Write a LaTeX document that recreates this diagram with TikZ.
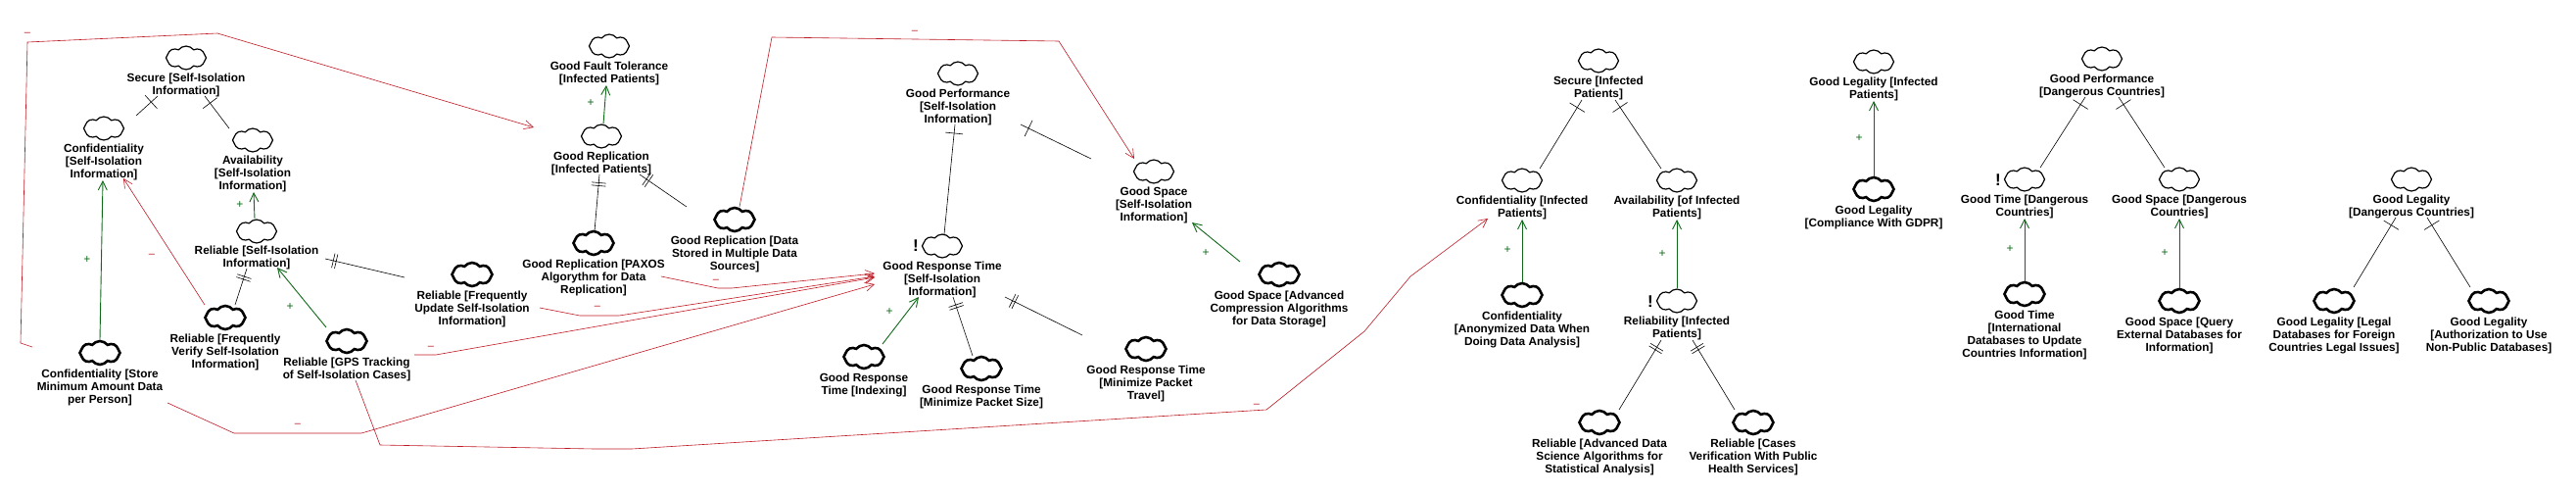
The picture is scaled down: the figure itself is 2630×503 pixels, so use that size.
\documentclass[tikz,border=0pt]{standalone}
\usepackage{fontspec}
\setmainfont{Liberation Sans}
\usepackage{tikz}
\usetikzlibrary{arrows.meta,calc,positioning,decorations.markings,shapes.symbols}
\definecolor{hurtred}{RGB}{190,25,35}
\definecolor{helpgreen}{RGB}{15,105,25}
\tikzset{
        softgoal/.style = {draw, cloud, cloud puffs=8, cloud puff arc=105, cloud ignores aspect,
            inner sep=0pt, line width=1.2pt,
            minimum width=41pt,
            minimum height=24pt},
        softtask/.style = {softgoal, line width=2.6pt},
        goaltext/.style = {align=center, inner sep=0pt, font=\fontsize{11.8}{13}\selectfont\bfseries},
        warn/.style = {inner sep=0pt, font=\fontsize{17}{17}\selectfont\bfseries},
        helps/.style = {draw=helpgreen, line width=.9pt, -{Straight Barb[length=9pt,width=9pt]}},
        hurts/.style = {draw=hurtred, line width=.6pt, -{Straight Barb[length=9pt,width=9pt]}},
        helpsign/.style = {inner sep=0pt, text=helpgreen, font=\fontsize{12}{12}\selectfont},
        hurtsign/.style = {inner sep=0pt, yshift=-1pt, text=hurtred, font=\fontsize{11}{11}\selectfont},
        onebreak/.style = {draw, line width=.6pt, postaction={decorate},
            decoration={markings, mark=at position -9pt with {\draw (0,-9pt) -- (0,9pt);}}},
        twobreak/.style = {draw, line width=.6pt, postaction={decorate},
            decoration={markings,
                mark=at position -8.5pt with {\draw (0,-7.5pt) -- (0,7.5pt);},
                mark=at position -11.5pt with {\draw (0,-7.5pt) -- (0,7.5pt);}}},
    }

\begin{document}
\begin{tikzpicture}[x=1pt,y=-1pt]
    \useasboundingbox (0,0) rectangle (2630,503);

    \node[softgoal] (secinfo) at (190,59) {};
    \node[goaltext, below=3pt of secinfo] (secinfot) {Secure [Self-Isolation\\Information]};
    \node[softgoal] (confinfo) at (106,131) {};
    \node[goaltext, below=3pt of confinfo] (confinfot) {Confidentiality\\{}[Self-Isolation\\Information]};
    \node[softgoal] (avinfo) at (258,143) {};
    \node[goaltext, below=3pt of avinfo] (avinfot) {Availability\\{}[Self-Isolation\\Information]};
    \node[softgoal] (relinfo) at (262,236) {};
    \node[goaltext, below=2pt of relinfo] (relinfot) {Reliable [Self-Isolation\\Information]};
    \node[softtask] (relverify) at (230,324) {};
    \node[goaltext, below=3pt of relverify] (relverifyt) {Reliable [Frequently\\Verify Self-Isolation\\Information]};
    \node[softtask] (relgps) at (354,348) {};
    \node[goaltext, below=3pt of relgps] (relgpst) {Reliable [GPS Tracking\\of Self-Isolation Cases]};
    \node[softtask] (confstore) at (102,360) {};
    \node[goaltext, below=3pt of confstore] (confstoret) {Confidentiality [Store\\Minimum Amount Data\\per Person]};
    \node[softtask] (relupdate) at (482,280) {};
    \node[goaltext, below=3pt of relupdate] (relupdatet) {Reliable [Frequently\\Update Self-Isolation\\Information]};

    \node[softtask] (replpaxos) at (606,248) {};
    \node[goaltext, below=3pt of replpaxos] (replpaxost) {Good Replication [PAXOS\\Algorythm for Data\\Replication]};
    \node[softtask] (repldata) at (750,224) {};
    \node[goaltext, below=3pt of repldata] (repldatat) {Good Replication [Data\\Stored in Multiple Data\\Sources]};
    \node[softgoal] (replpat) at (614,139) {};
    \node[goaltext, below=3pt of replpat] (replpatt) {Good Replication\\{}[Infected Patients]};
    \node[softgoal] (ftpat) at (622,47) {};
    \node[goaltext, below=3pt of ftpat] (ftpatt) {Good Fault Tolerance\\{}[Infected Patients]};

    \node[softgoal] (perfinfo) at (978,75) {};
    \node[goaltext, below=3pt of perfinfo] (perfinfot) {Good Performance\\{}[Self-Isolation\\Information]};
    \node[softgoal] (spaceinfo) at (1178,175) {};
    \node[goaltext, below=3pt of spaceinfo] (spaceinfot) {Good Space\\{}[Self-Isolation\\Information]};
    \node[softgoal] (rtinfo) at (962,251) {};
    \node[warn] (rtwarn) at (935,251) {!};
    \node[goaltext, below=3pt of rtinfo] (rtinfot) {Good Response Time\\{}[Self-Isolation\\Information]};
    \node[softtask] (spaceadv) at (1306,280) {};
    \node[goaltext, below=3pt of spaceadv] (spaceadvt) {Good Space [Advanced\\Compression Algorithms\\for Data Storage]};
    \node[softtask] (rtindex) at (882,364) {};
    \node[goaltext, below=3pt of rtindex] (rtindext) {Good Response\\Time [Indexing]};
    \node[softtask] (rtsize) at (1002,376) {};
    \node[goaltext, below=3pt of rtsize] (rtsizet) {Good Response Time\\{}[Minimize Packet Size]};
    \node[softtask] (rttravel) at (1170,356) {};
    \node[goaltext, below=3pt of rttravel] (rttravelt) {Good Response Time\\{}[Minimize Packet\\Travel]};

    \node[softgoal] (secpat) at (1632,62) {};
    \node[goaltext, below=3pt of secpat] (secpatt) {Secure [Infected\\Patients]};
    \node[softgoal] (confpat) at (1554,184) {};
    \node[goaltext, below=3pt of confpat] (confpatt) {Confidentiality [Infected\\Patients]};
    \node[softgoal] (avpat) at (1712,184) {};
    \node[goaltext, below=3pt of avpat] (avpatt) {Availability [of Infected\\Patients]};
    \node[softtask] (confanon) at (1554,301) {};
    \node[goaltext, below=3pt of confanon] (confanont) {Confidentiality\\{}[Anonymized Data When\\Doing Data Analysis]};
    \node[softgoal] (relpat) at (1712,307) {};
    \node[warn] (relwarn) at (1685,308) {!};
    \node[goaltext, below=3pt of relpat] (relpatt) {Reliability [Infected\\Patients]};
    \node[softtask] (reladv) at (1633,431) {};
    \node[goaltext, below=3pt of reladv] (reladvt) {Reliable [Advanced Data\\Science Algorithms for\\Statistical Analysis]};
    \node[softtask] (relcases) at (1790,431) {};
    \node[goaltext, below=3pt of relcases] (relcasest) {Reliable [Cases\\Verification With Public\\Health Services]};

    \node[softgoal] (legpat) at (1913,63) {};
    \node[goaltext, below=3pt of legpat] (legpatt) {Good Legality [Infected\\Patients]};
    \node[softtask] (leggdpr) at (1913,193) {};
    \node[goaltext, below=3pt of leggdpr] (leggdprt) {Good Legality\\{}[Compliance With GDPR]};

    \node[softgoal] (perfdc) at (2146,60) {};
    \node[goaltext, below=3pt of perfdc] (perfdct) {Good Performance\\{}[Dangerous Countries]};
    \node[softgoal] (timedc) at (2067,183) {};
    \node[warn] (timewarn) at (2040,184) {!};
    \node[goaltext, below=3pt of timedc] (timedct) {Good Time [Dangerous\\Countries]};
    \node[softgoal] (spacedc) at (2225,183) {};
    \node[goaltext, below=3pt of spacedc] (spacedct) {Good Space [Dangerous\\Countries]};
    \node[softtask] (timeintl) at (2067,300) {};
    \node[goaltext, below=3pt of timeintl] (timeintlt) {Good Time\\{}[International\\Databases to Update\\Countries Information]};
    \node[softtask] (spacequery) at (2225,307) {};
    \node[goaltext, below=3pt of spacequery] (spacequeryt) {Good Space [Query\\External Databases for\\Information]};

    \node[softgoal] (legdc) at (2462,183) {};
    \node[goaltext, below=3pt of legdc] (legdct) {Good Legality\\{}[Dangerous Countries]};
    \node[softtask] (leglegal) at (2383,307) {};
    \node[goaltext, below=3pt of leglegal] (leglegalt) {Good Legality [Legal\\Databases for Foreign\\Countries Legal Issues]};
    \node[softtask] (legauth) at (2541,307) {};
    \node[goaltext, below=3pt of legauth] (legautht) {Good Legality\\{}[Authorization to Use\\Non-Public Databases]};

    \draw[onebreak] ($ (confinfo) + (33,-13) $) -- ($ (secinfo) + (-29,39) $);
    \draw[onebreak] ($ (avinfo) + (-24,-12) $) -- ($ (secinfo) + (19,39) $);
    \draw[twobreak] ($ (relverify) + (10,-13) $) -- ($ (relinfo) + (-10,38) $);
    \draw[twobreak] ($ (relupdate) + (-69,3) $) -- ($ (relinfo) + (70,28) $);
    \draw[twobreak] ($ (replpaxos) + (1,-12) $) -- ($ (replpat) + (-2,39) $);
    \draw[twobreak] ($ (repldata) + (-49,-13) $) -- ($ (replpat) + (39,39) $);
    \draw[onebreak] ($ (rtinfo) + (2,-12) $) -- ($ (perfinfo) + (-3,52) $);
    \draw[onebreak] ($ (spaceinfo) + (-64,-13) $) -- ($ (perfinfo) + (64,52) $);
    \draw[twobreak] ($ (rtsize) + (-9,-13) $) -- ($ (rtinfo) + (11,52) $);
    \draw[twobreak] ($ (rttravel) + (-65,-14) $) -- ($ (rtinfo) + (64,52) $);
    \draw[onebreak] ($ (confpat) + (18,-12) $) -- ($ (secpat) + (-17,40) $);
    \draw[onebreak] ($ (avpat) + (-16,-12) $) -- ($ (secpat) + (17,40) $);
    \draw[twobreak] ($ (reladv) + (20,-13) $) -- ($ (relpat) + (-16,40) $);
    \draw[twobreak] ($ (relcases) + (-19,-13) $) -- ($ (relpat) + (16,40) $);
    \draw[onebreak] ($ (timedc) + (16,-12) $) -- ($ (perfdc) + (-17,39) $);
    \draw[onebreak] ($ (spacedc) + (-15,-12) $) -- ($ (perfdc) + (17,39) $);
    \draw[onebreak] ($ (leglegal) + (20,-14) $) -- ($ (legdc) + (-16,39) $);
    \draw[onebreak] ($ (legauth) + (-19,-14) $) -- ($ (legdc) + (16,39) $);

    \draw[helps] ($ (confstore.north) + (0,0) $) -- ($ (confinfot.south) + (-1,0) $);
    \draw[helps] ($ (relinfo.north) + (-2,0) $) -- ($ (avinfot.south) + (1,0) $);
    \draw[helps] ($ (relgps) + (-21,-14) $) -- ($ (relinfo) + (21,37) $);
    \draw[helps] ($ (replpat.north) + (2,0) $) -- ($ (ftpatt.south) + (-3,0) $);
    \draw[helps] ($ (rtindex) + (19,-13) $) -- ($ (rtinfo) + (-24,52) $);
    \draw[helps] ($ (spaceadv) + (-40,-13) $) -- ($ (spaceinfo) + (39,52) $);
    \draw[helps] (confanon.north) -- (confpatt.south);
    \draw[helps] (relpat.north) -- (avpatt.south);
    \draw[helps] (leggdpr.north) -- (legpatt.south);
    \draw[helps] (timeintl.north) -- (timedct.south);
    \draw[helps] (spacequery.north) -- (spacedct.south);

    \draw[hurts] ($ (confstore) + (-69,-6) $) -- (21,350) -- (28,43) -- (222,34) -- ($ (replpat) + (-69,-9) $);
    \draw[hurts] ($ (relverify) + (-21,-13) $) -- ($ (confinfo) + (20,51) $);
    \draw[hurts] ($ (relupdate) + (69,34) $) -- (592,322) -- (632,322) -- ($ (rtinfo) + (-69,31) $);
    \draw[hurts] ($ (relgps) + (69,14) $) -- (445,362) -- ($ (rtinfo) + (-69,32) $);
    \draw[hurts] ($ (confstore) + (69,51) $) -- (239,442) -- (369,442) -- ($ (rtinfo) + (-69,39) $);
    \draw[hurts] ($ (replpaxos) + (69,34) $) -- (733,294) -- (747,294) -- ($ (rtinfo) + (-69,28) $);
    \draw[hurts] ($ (repldata) + (5,-13) $) -- (788,38) -- (1081,42) -- ($ (spaceinfo) + (-20,-13) $);
    \draw[hurts] ($ (relgps) + (9,40) $) -- (388,454) -- (607,458) -- (645,458) -- (1293,418) -- (1393,338) -- (1440,282) -- ($ (confpat) + (-35,39) $);

    \node[helpsign] (plus1) at (89,265) {+};
    \node[helpsign] (plus2) at (245,209) {+};
    \node[helpsign] (plus3) at (296,313) {+};
    \node[helpsign] (plus4) at (603,105) {+};
    \node[helpsign] (plus5) at (908,318) {+};
    \node[helpsign] (plus6) at (1231,258) {+};
    \node[helpsign] (plus7) at (1539,255) {+};
    \node[helpsign] (plus8) at (1697,259) {+};
    \node[helpsign] (plus9) at (1898,141) {+};
    \node[helpsign] (plus10) at (2052,254) {+};
    \node[helpsign] (plus11) at (2210,258) {+};

    \node[hurtsign] (minus1) at (28,34) {–};
    \node[hurtsign] (minus2) at (155,260) {–};
    \node[hurtsign] (minus3) at (610,313) {–};
    \node[hurtsign] (minus4) at (440,354) {–};
    \node[hurtsign] (minus5) at (304,433) {–};
    \node[hurtsign] (minus6) at (731,286) {–};
    \node[hurtsign] (minus7) at (934,32) {–};
    \node[hurtsign] (minus8) at (1283,413) {–};
\end{tikzpicture}
\end{document}
